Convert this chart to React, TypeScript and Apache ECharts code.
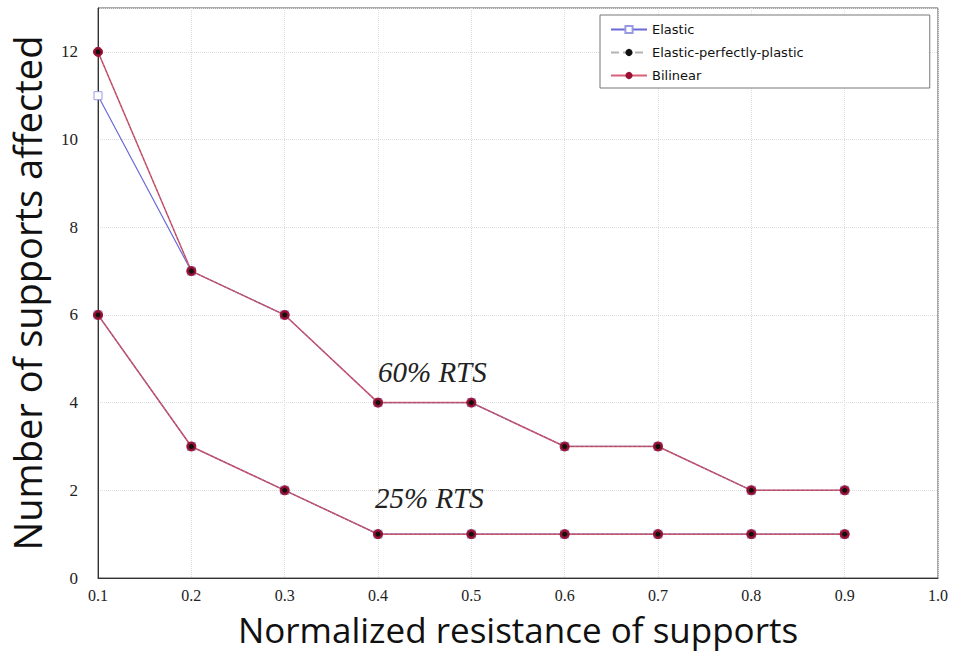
import React, { useEffect, useRef } from "react";
import * as echarts from "echarts";

const xValues = [0.1, 0.2, 0.3, 0.4, 0.5, 0.6, 0.7, 0.8, 0.9];
const elastic60 = [11, 7, 6, 4, 4, 3, 3, 2, 2];
const epp60 = [12, 7, 6, 4, 4, 3, 3, 2, 2];
const bilinear60 = [12, 7, 6, 4, 4, 3, 3, 2, 2];
const elastic25 = [6, 3, 2, 1, 1, 1, 1, 1, 1];
const epp25 = [6, 3, 2, 1, 1, 1, 1, 1, 1];
const bilinear25 = [6, 3, 2, 1, 1, 1, 1, 1, 1];
const seriesNames = ["Elastic", "Elastic-perfectly-plastic", "Bilinear"];
const annotations = [
  { text: "60% RTS", x: 0.4, y: 4 },
  { text: "25% RTS", x: 0.4, y: 1 },
];

const pts = (ys: number[]) => xValues.map((x, i) => [x, ys[i]]);

export default function App() {
  const ref = useRef<HTMLDivElement>(null);
  useEffect(() => {
    if (!ref.current) return;
    const chart = echarts.init(ref.current, null, { renderer: "svg" });
    const elasticStyle = (data: number[][]) => ({
      name: seriesNames[0],
      type: "line",
      data,
      symbol: "rect",
      symbolSize: 8,
      lineStyle: { color: "#6a6ad8", width: 1.2 },
      itemStyle: { color: "#ffffff", borderColor: "#9a9ae0", borderWidth: 1 },
      z: 2,
    });
    const bilStyle = (data: number[][]) => ({
      name: seriesNames[2],
      type: "line",
      data,
      symbol: "circle",
      symbolSize: 9,
      lineStyle: { color: "#d9607a", width: 1.5 },
      itemStyle: { color: "#9a1030", borderColor: "#9a1030" },
      z: 3,
    });
    const eppStyle = (data: number[][]) => ({
      name: seriesNames[1],
      type: "line",
      data,
      symbol: "circle",
      symbolSize: 5,
      lineStyle: { color: "#222222", width: 0.8, type: "dashed", opacity: 0.35 },
      itemStyle: { color: "#111111" },
      z: 4,
    });
    chart.setOption({
      animation: false,
      backgroundColor: "#ffffff",
      grid: {
        left: 94,
        right: 15,
        top: 8,
        bottom: 76,
        show: true,
        borderColor: "#555555",
        borderWidth: 1,
      },
      legend: {
        data: [
          { name: seriesNames[0] },
          { name: seriesNames[1] },
          { name: seriesNames[2] },
        ],
        orient: "vertical",
        left: 600,
        top: 15,
        padding: [8, 126, 6, 10],
        itemGap: 10,
        itemWidth: 36,
        itemHeight: 9,
        borderColor: "#777777",
        borderWidth: 1,
        backgroundColor: "#ffffff",
        textStyle: { fontFamily: "DejaVu Sans", fontSize: 13, color: "#111111" },
      },
      xAxis: {
        type: "value",
        min: 0.1,
        max: 1.0,
        interval: 0.1,
        name: "Normalized resistance of supports",
        nameLocation: "middle",
        nameGap: 34,
        nameTextStyle: { fontFamily: "Open Sans", fontSize: 35, color: "#111111" },
        axisLine: { lineStyle: { color: "#333333" } },
        axisTick: { show: false },
        axisLabel: {
          fontFamily: "Liberation Serif",
          fontSize: 16,
          color: "#222222",
          margin: 9,
          formatter: (v: number) => v.toFixed(1),
        },
        splitLine: { show: true, lineStyle: { color: "#dddddd", type: "dotted" } },
      },
      yAxis: {
        type: "value",
        min: 0,
        max: 13,
        interval: 2,
        name: "Number of supports affected",
        nameLocation: "middle",
        nameGap: 52,
        nameTextStyle: { fontFamily: "Open Sans", fontSize: 38, color: "#111111" },
        axisLine: { show: true, lineStyle: { color: "#333333" } },
        axisTick: { show: false },
        axisLabel: {
          fontFamily: "Liberation Serif",
          fontSize: 17,
          color: "#222222",
          margin: 20,
          showMaxLabel: false,
        },
        splitLine: { show: true, lineStyle: { color: "#dddddd", type: "dotted" } },
      },
      series: [
        elasticStyle(pts(elastic60)),
        elasticStyle(pts(elastic25)),
        bilStyle(pts(bilinear60)),
        bilStyle(pts(bilinear25)),
        eppStyle(pts(epp60)),
        {
          ...eppStyle(pts(epp25)),
          markPoint: {
            symbol: "circle",
            symbolSize: 0,
            label: {
              show: true,
              position: "inside",
              align: "left",
              verticalAlign: "middle",
              fontFamily: "Liberation Serif",
              fontStyle: "italic",
              fontSize: 29,
              color: "#222222",
              formatter: (p: any) => p.name,
            },
            data: annotations.map((a, i) => ({
              name: a.text,
              coord: [a.x, a.y],
              label: { offset: i === 0 ? [0, -31] : [-3, -36] },
            })),
          },
        },
      ],
    });
    return () => chart.dispose();
  }, []);
  return (
    <div
      ref={ref}
      style={{ position: "fixed", left: 0, top: 0, width: 953, height: 654 }}
    />
  );
}
